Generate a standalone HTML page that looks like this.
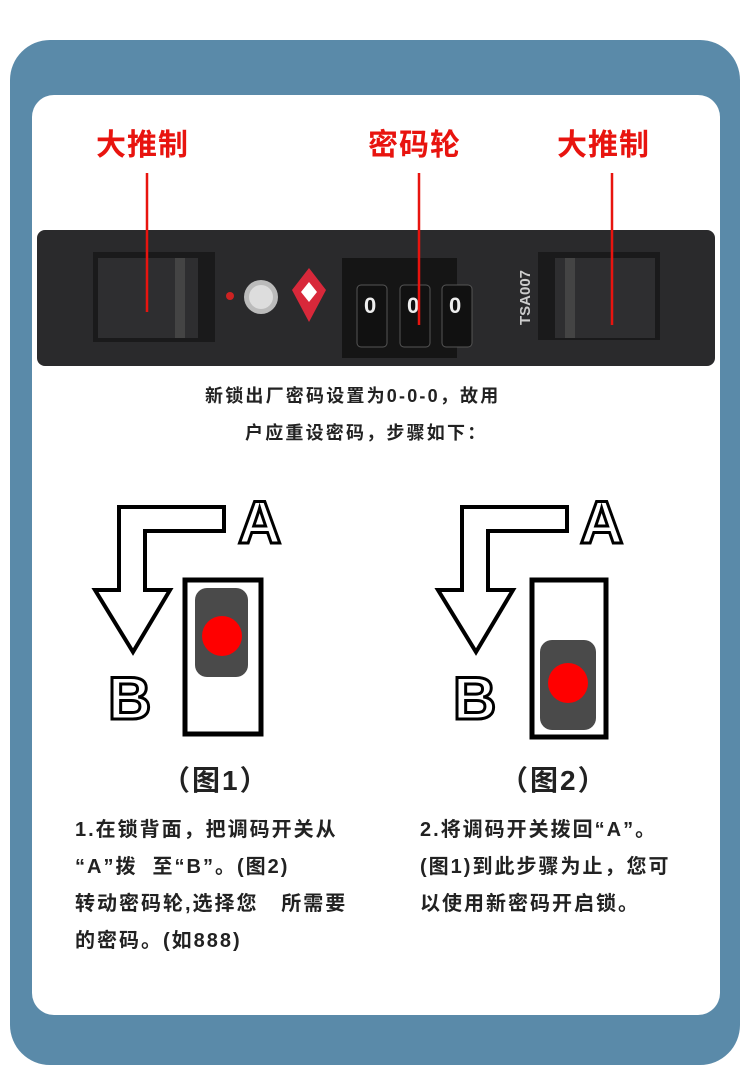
<!DOCTYPE html>
<html><head><meta charset="utf-8"><style>
body{margin:0;width:750px;height:1087px;background:#fff;position:relative;overflow:hidden;font-family:"Liberation Sans","Noto Sans CJK SC",sans-serif}
.frame{position:absolute;left:10px;top:40px;width:730px;height:1025px;background:#5a8aa9;border-radius:40px}
.panel{position:absolute;left:32px;top:95px;width:688px;height:920px;background:#fff;border-radius:22px}
.red{position:absolute;color:#e8140f;font-weight:bold;font-size:30px;letter-spacing:1px}
.t{position:absolute;color:#222;font-size:20px;font-weight:bold;line-height:37px;letter-spacing:2px;white-space:nowrap}
.ol{position:absolute;font-weight:bold;color:#fff;-webkit-text-stroke:3px #000;font-size:60px;font-family:"Liberation Sans",sans-serif}
</style></head><body>
<div class="frame"></div><div class="panel"></div>
<div class="red" style="left:96px;top:120px">大推制</div>
<div class="red" style="left:368px;top:120px">密码轮</div>
<div class="red" style="left:557px;top:120px">大推制</div>
<svg style="position:absolute;left:0;top:0" width="750" height="1087">
<rect x="37" y="230" width="678" height="136" rx="8" fill="#2a2a2c"/>
<rect x="93" y="252" width="122" height="90" fill="#1a1a1b"/>
<rect x="98" y="258" width="100" height="80" fill="#2e2e30"/>
<rect x="175" y="258" width="10" height="80" fill="#444"/>
<rect x="538" y="252" width="122" height="88" fill="#1a1a1b"/>
<rect x="555" y="258" width="100" height="80" fill="#2e2e30"/>
<rect x="565" y="258" width="10" height="80" fill="#444"/>
<circle cx="230" cy="296" r="4" fill="#c22"/>
<circle cx="261" cy="297" r="17" fill="#bbb"/><circle cx="261" cy="297" r="12" fill="#ddd"/>
<polygon points="309,268 326,290 309,322 292,290" fill="#d8283a"/><polygon points="309,282 317,292 309,302 301,292" fill="#fff"/>
<rect x="342" y="258" width="115" height="100" fill="#151515"/>
<g fill="#111" stroke="#555"><rect x="357" y="285" width="30" height="62" rx="4"/><rect x="400" y="285" width="30" height="62" rx="4"/><rect x="442" y="285" width="30" height="62" rx="4"/></g>
<g fill="#eee" font-size="22" font-weight="bold" font-family="Liberation Sans"><text x="364" y="313">0</text><text x="407" y="313">0</text><text x="449" y="313">0</text></g>
<text x="0" y="0" transform="translate(530,325) rotate(-90)" fill="#ccc" font-size="15" font-weight="bold" font-family="Liberation Sans">TSA007</text>
<line x1="147" y1="173" x2="147" y2="312" stroke="#e8140f" stroke-width="2.5"/>
<line x1="419" y1="173" x2="419" y2="325" stroke="#e8140f" stroke-width="2.5"/>
<line x1="612" y1="173" x2="612" y2="325" stroke="#e8140f" stroke-width="2.5"/>
<polygon points="224,507 224,531 145,531 145,590 170,590 133,652 95,590 119,590 119,507" fill="#fff" stroke="#000" stroke-width="4"/>
<rect x="185" y="580" width="76" height="154" fill="#fff" stroke="#000" stroke-width="5"/>
<rect x="195" y="588" width="53" height="89" rx="12" fill="#4a4a4a"/>
<circle cx="222" cy="636" r="20" fill="#f00"/>
<polygon points="567,507 567,531 488,531 488,590 513,590 476,652 438,590 462,590 462,507" fill="#fff" stroke="#000" stroke-width="4"/>
<rect x="532" y="580" width="74" height="157" fill="#fff" stroke="#000" stroke-width="5"/>
<rect x="540" y="640" width="56" height="90" rx="12" fill="#4a4a4a"/>
<circle cx="568" cy="683" r="20" fill="#f00"/>
</svg>
<div class="ol" style="left:238px;top:488px">A</div>
<div class="ol" style="left:108px;top:664px">B</div>
<div class="ol" style="left:580px;top:488px">A</div>
<div class="ol" style="left:453px;top:664px">B</div>
<div class="t" style="left:205px;top:378px;font-size:18px;letter-spacing:2.2px">新锁出厂密码设置为0-0-0，故用</div>
<div class="t" style="left:245px;top:415px;font-size:18px;letter-spacing:2.2px">户应重设密码，步骤如下：</div>
<div class="t" style="left:162px;top:762px;font-size:28px">（图1）</div>
<div class="t" style="left:500px;top:762px;font-size:28px">（图2）</div>
<div class="t" style="left:75px;top:812px">1.在锁背面，把调码开关从<br>“A”拨&nbsp; 至“B”。(图2)<br>转动密码轮,选择您&nbsp;&nbsp; 所需要<br>的密码。(如888)</div>
<div class="t" style="left:420px;top:812px">2.将调码开关拨回“A”。<br>(图1)到此步骤为止，您可<br>以使用新密码开启锁。</div>
</body></html>
